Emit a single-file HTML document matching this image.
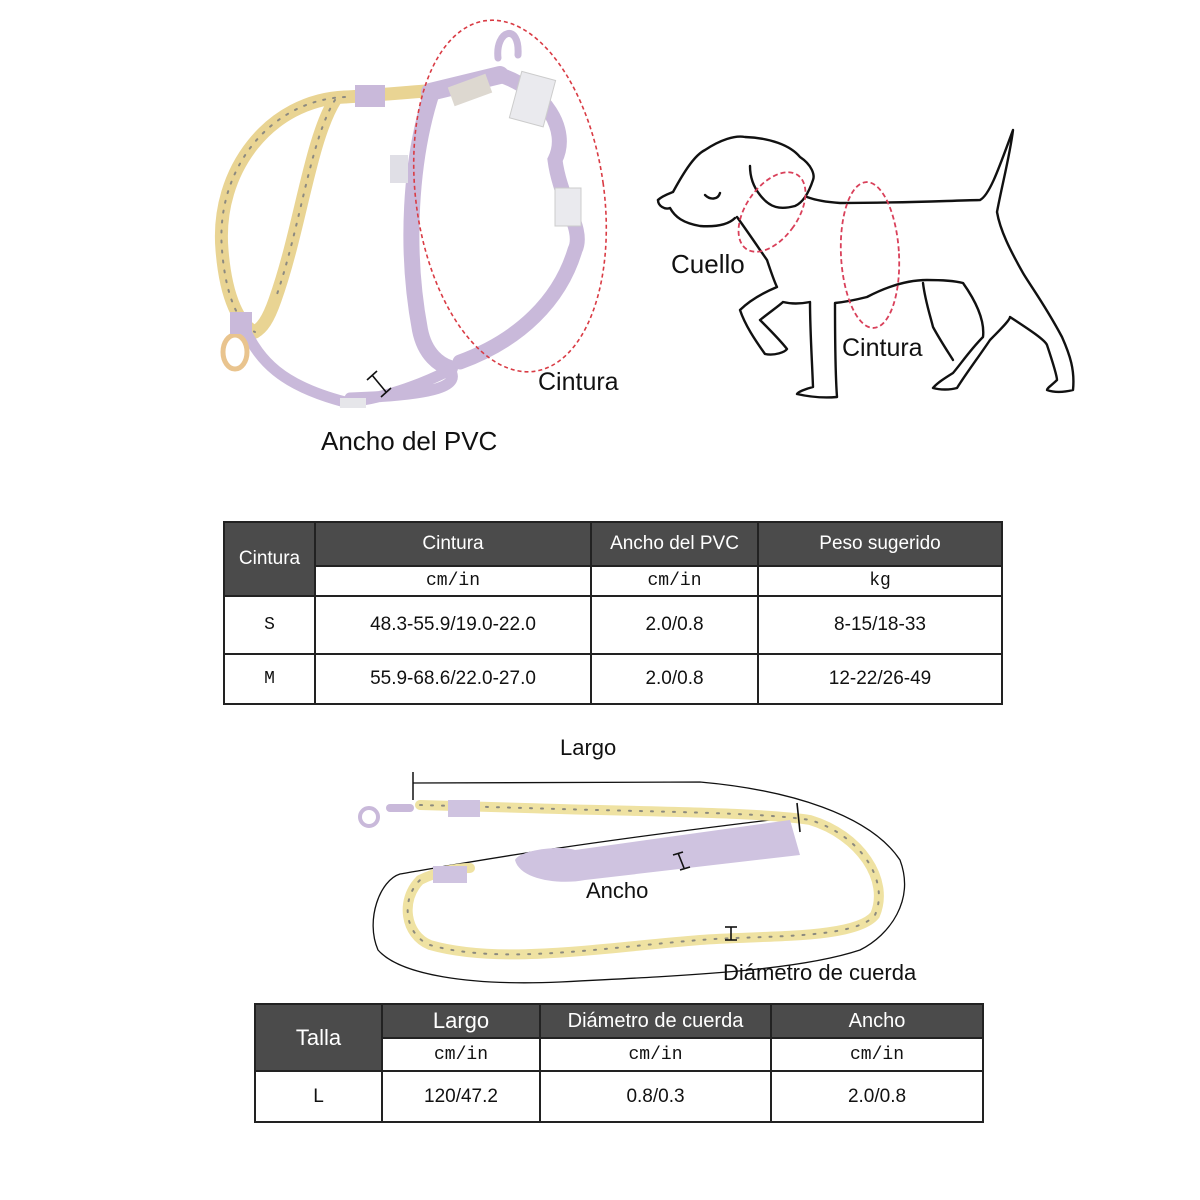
<!DOCTYPE html>
<html><head><meta charset="utf-8"><style>
body{margin:0;background:#fff;width:1200px;height:1200px;position:relative;overflow:hidden;font-family:"Liberation Sans",sans-serif}
.t{position:absolute;font-size:25px;color:#111}
table{position:absolute;border-collapse:collapse;table-layout:fixed}
td{border:2px solid #222;text-align:center;padding:0;font-size:19px;color:#111}
td.h{background:#4b4b4b;color:#fff;font-size:19px}
.m{font-family:"Liberation Mono",monospace;font-size:18px}
</style></head><body>
<svg width="1200" height="1200" style="position:absolute;left:0;top:0">
<g fill="none" stroke-linecap="round">
<path d="M345 97 C270 100 215 170 222 250 C226 300 240 325 255 332" stroke="#e9d493" stroke-width="13"/>
<path d="M335 100 C310 140 300 230 275 300 C268 320 262 328 255 332" stroke="#e9d493" stroke-width="13"/>
<path d="M345 97 C380 95 410 92 440 90" stroke="#e9d493" stroke-width="13"/>
<path d="M345 97 C270 100 215 170 222 250 C226 300 240 325 255 332" stroke="#8d8a80" stroke-width="2" stroke-dasharray="2 8"/>
<path d="M335 100 C310 140 300 230 275 300" stroke="#8d8a80" stroke-width="2" stroke-dasharray="2 8"/>
<path d="M432 92 C410 160 405 250 420 330 C425 355 440 365 450 368" stroke="#c9b9da" stroke-width="16"/>
<path d="M500 75 C545 90 570 130 555 160 C560 200 585 230 575 250 C560 300 520 340 460 362" stroke="#c9b9da" stroke-width="15"/>
<path d="M430 92 L500 75" stroke="#c9b9da" stroke-width="18"/>
<path d="M245 330 C260 360 280 385 345 402 C380 400 420 385 450 370 C460 385 440 395 350 398" stroke="#c9b9da" stroke-width="11"/>
<ellipse cx="235" cy="352" rx="12" ry="17" stroke="#e9c48e" stroke-width="5"/>
<path d="M498 58 C495 30 520 22 518 55" stroke="#c9b9da" stroke-width="7"/>
</g>
<rect x="355" y="85" width="30" height="22" fill="#c9b9da"/>
<rect x="230" y="312" width="22" height="22" fill="#c9b9da"/>
<rect x="450" y="80" width="40" height="20" fill="#ddd8d0" transform="rotate(-20 470 90)"/>
<rect x="515" y="75" width="35" height="48" fill="#eaeaee" stroke="#ccc" transform="rotate(15 532 99)"/>
<rect x="555" y="188" width="26" height="38" fill="#eaeaee" stroke="#ccc"/>
<rect x="390" y="155" width="18" height="28" fill="#e0dfe6"/>
<rect x="340" y="398" width="26" height="10" fill="#e6e6ea"/>
<ellipse cx="510" cy="196" rx="94" ry="177" transform="rotate(-8 510 196)" fill="none" stroke="#d93b44" stroke-width="1.6" stroke-dasharray="4 3"/>
<g stroke="#111" stroke-width="1.6"><line x1="372" y1="375" x2="386" y2="392"/><line x1="367" y1="380" x2="377" y2="371"/><line x1="381" y1="397" x2="391" y2="388"/></g>
<g fill="none" stroke="#111" stroke-width="2.4" stroke-linejoin="round" stroke-linecap="round">
<path d="M658 200 C662 196 668 194 673 192 C685 170 695 155 705 150 C720 140 735 135 745 137 C770 138 790 145 800 157 C812 165 815 175 813 180 C808 195 802 203 795 206 C780 210 770 208 760 195 C752 185 750 175 750 166"/>
<path d="M658 200 C658 206 665 210 670 208 C675 217 683 223 700 226 C715 227 728 225 735 218"/>
<path d="M737 217 C750 235 760 250 767 260 C772 275 775 283 777 287 C765 292 750 300 740 310 C745 325 755 340 765 354 C775 356 785 352 787 349 C780 340 770 330 760 320 C770 312 780 305 783 302 C795 305 805 303 810 302 C810 330 812 360 813 387 C805 389 798 392 797 394 C810 397 825 398 837 397 C835 370 835 330 835 303 C845 302 855 300 867 297 C890 285 910 280 927 280 C945 280 955 281 963 283 C975 300 985 320 983 337 C970 350 960 365 953 373 C945 378 937 383 933 388 C940 390 950 390 957 388 C965 375 980 355 990 340 C1000 330 1010 320 1010 317 C1030 330 1045 340 1047 345 C1052 360 1057 375 1057 380 C1052 385 1047 388 1047 390 C1055 393 1065 392 1073 390 C1075 370 1070 355 1062 337 C1045 305 1030 285 1023 273 C1010 250 1000 230 997 212 C1002 185 1010 155 1013 130 C1000 165 990 195 980 200 C940 201 900 203 840 203 C825 202 815 200 807 197"/>
<path d="M923 283 C925 300 930 315 933 327 C940 340 948 352 953 360"/>
<path d="M705 195 C710 200 718 200 720 193"/>
</g>
<g fill="none" stroke="#d9405a" stroke-width="1.8" stroke-dasharray="5 3">
<ellipse cx="772" cy="212" rx="26" ry="45" transform="rotate(35 772 212)"/>
<ellipse cx="870" cy="255" rx="29" ry="73" transform="rotate(-3 870 255)"/>
</g>
<path d="M413 783 L700 782 C790 790 870 815 900 860 C915 900 890 935 860 950 C800 970 700 975 560 982 C470 986 400 975 378 950 C365 920 380 880 400 874 C470 862 560 845 795 817" fill="none" stroke="#111" stroke-width="1.3"/>
<line x1="413" y1="772" x2="413" y2="800" stroke="#111" stroke-width="1.5"/>
<g fill="none" stroke-linecap="round">
<path d="M420 805 L525 808 C650 812 760 812 810 820 C860 835 890 880 875 915 C855 940 760 935 700 940 C600 948 500 965 430 945 C405 935 400 900 420 880 C440 870 460 868 470 868" stroke="#efe2a2" stroke-width="10"/>
<path d="M420 805 L525 808 C650 812 760 812 810 820 C860 835 890 880 875 915 C855 940 760 935 700 940 C600 948 500 965 430 945 C405 935 400 900 420 880" stroke="#8c8a7e" stroke-width="2" stroke-dasharray="2 9"/>
<path d="M410 808 L390 808" stroke="#c9b9da" stroke-width="8"/>
<circle cx="369" cy="817" r="9" stroke="#c9b9da" stroke-width="4"/>
</g>
<rect x="448" y="800" width="32" height="17" fill="#cfc3e0"/>
<rect x="433" y="866" width="34" height="17" fill="#cfc3e0"/>
<path d="M515 860 C520 850 560 845 575 850 L790 820 L800 855 L585 880 C560 885 520 880 515 860Z" fill="#cfc3e0"/>
<g stroke="#111" stroke-width="1.6"><line x1="797" y1="803" x2="800" y2="832"/><line x1="678" y1="853" x2="684" y2="868"/><line x1="673" y1="855" x2="683" y2="852"/><line x1="680" y1="870" x2="690" y2="867"/>
<line x1="731" y1="927" x2="731" y2="940"/><line x1="725" y1="927" x2="737" y2="927"/><line x1="725" y1="940" x2="737" y2="940"/></g>
</svg>
<div class="t" style="left:321px;top:426px;font-size:26px">Ancho del PVC</div>
<div class="t" style="left:538px;top:368px">Cintura</div>
<div class="t" style="left:671px;top:249px;font-size:26px">Cuello</div>
<div class="t" style="left:842px;top:334px">Cintura</div>
<div class="t" style="left:560px;top:735px;font-size:22px">Largo</div>
<div class="t" style="left:586px;top:878px;font-size:22px">Ancho</div>
<div class="t" style="left:723px;top:960px;font-size:22px">Diámetro de cuerda</div>
<table style="left:223px;top:521px;width:779px">
<colgroup><col style="width:91px"><col style="width:276px"><col style="width:167px"><col style="width:244px"></colgroup>
<tr style="height:44px"><td class="h" rowspan="2">Cintura</td><td class="h">Cintura</td><td class="h">Ancho del PVC</td><td class="h">Peso sugerido</td></tr>
<tr style="height:30px"><td class="m">cm/in</td><td class="m">cm/in</td><td class="m">kg</td></tr>
<tr style="height:58px"><td class="m">S</td><td>48.3-55.9/19.0-22.0</td><td>2.0/0.8</td><td>8-15/18-33</td></tr>
<tr style="height:50px"><td class="m">M</td><td>55.9-68.6/22.0-27.0</td><td>2.0/0.8</td><td>12-22/26-49</td></tr>
</table>
<table style="left:254px;top:1003px;width:729px">
<colgroup><col style="width:127px"><col style="width:158px"><col style="width:231px"><col style="width:212px"></colgroup>
<tr style="height:34px"><td class="h" rowspan="2" style="font-size:22px">Talla</td><td class="h" style="font-size:22px">Largo</td><td class="h" style="font-size:20px">Diámetro de cuerda</td><td class="h" style="font-size:20px">Ancho</td></tr>
<tr style="height:33px"><td class="m">cm/in</td><td class="m">cm/in</td><td class="m">cm/in</td></tr>
<tr style="height:51px"><td>L</td><td>120/47.2</td><td>0.8/0.3</td><td>2.0/0.8</td></tr>
</table>
</body></html>
